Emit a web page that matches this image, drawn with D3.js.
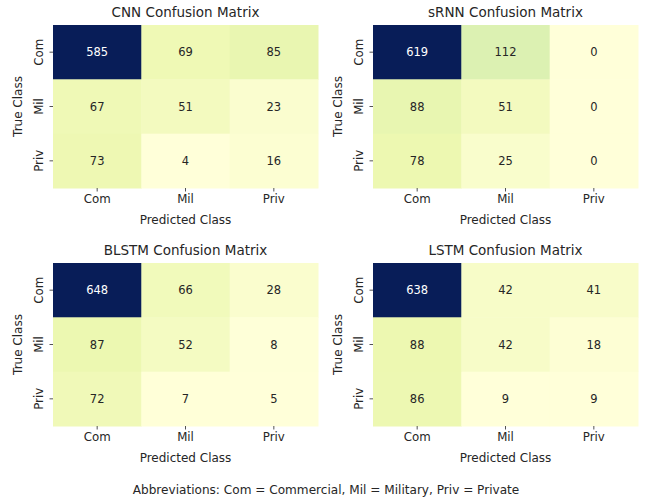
<!DOCTYPE html>
<html><head><meta charset="utf-8">
<script src="https://cdn.jsdelivr.net/npm/d3@7"></script>
<style>body{margin:0;background:#fff;} svg{display:block;font-family:"DejaVu Sans",sans-serif;}</style>
</head><body>
<svg id="c" width="648" height="499"></svg>
<script>
const classes = ["Com", "Mil", "Priv"];
const titles = ["CNN Confusion Matrix", "sRNN Confusion Matrix", "BLSTM Confusion Matrix", "LSTM Confusion Matrix"];
const cnn = [[585, 69, 85], [67, 51, 23], [73, 4, 16]];
const srnn = [[619, 112, 0], [88, 51, 0], [78, 25, 0]];
const blstm = [[648, 66, 28], [87, 52, 8], [72, 7, 5]];
const lstm = [[638, 42, 41], [88, 42, 18], [86, 9, 9]];
const matrices = [cnn, srnn, blstm, lstm];
const footnote = "Abbreviations: Com = Commercial, Mil = Military, Priv = Private";

const ylgnbu = ["#ffffd9","#edf8b1","#c7e9b4","#7fcdbb","#41b6c4","#1d91c0","#225ea8","#253494","#081d58"];
const svg = d3.select("#c");
const panels = [
  {x0: 53, y0: 25}, {x0: 373, y0: 25},
  {x0: 53, y0: 263}, {x0: 373, y0: 263}
];
const W = 265, H = 163;

matrices.forEach((m, i) => {
  const p = panels[i];
  const g = svg.append("g").attr("transform", `translate(${p.x0},${p.y0})`);
  const flat = m.flat();
  const mn = d3.min(flat), mx = d3.max(flat);
  const color = d3.scaleLinear()
    .domain(d3.range(9).map(k => mn + (mx - mn) * k / 8))
    .range(ylgnbu).interpolate(d3.interpolateRgb).clamp(true);
  const x = d3.scaleBand().domain(classes).range([0, W]);
  const y = d3.scaleBand().domain(classes).range([0, H]);
  const cells = [];
  m.forEach((row, r) => row.forEach((v, c) => cells.push({r: classes[r], c: classes[c], v})));
  g.selectAll("rect").data(cells).enter().append("rect")
    .attr("x", d => x(d.c)).attr("y", d => y(d.r))
    .attr("width", x.bandwidth() + 0.5).attr("height", y.bandwidth() + 0.5)
    .attr("fill", d => color(d.v));
  g.selectAll("text.ann").data(cells).enter().append("text").attr("class", "ann")
    .attr("x", d => x(d.c) + x.bandwidth() / 2).attr("y", d => y(d.r) + y.bandwidth() / 2)
    .attr("text-anchor", "middle").attr("dominant-baseline", "central")
    .attr("font-size", "11.5px")
    .attr("fill", d => { const c = d3.lab(color(d.v)); return c.l < 50 ? "#ffffff" : "#262626"; })
    .text(d => d.v);
  const xa = g.append("g").attr("transform", `translate(0,${H})`)
    .call(d3.axisBottom(x).tickSize(3.5).tickPadding(3.5));
  xa.select(".domain").remove();
  xa.selectAll("line").attr("stroke", "#262626").attr("stroke-width", 0.8);
  xa.selectAll("text").attr("font-size", "11.8px").attr("fill", "#262626").attr("font-family", "DejaVu Sans");
  const ya = g.append("g").call(d3.axisLeft(y).tickSize(3.5).tickPadding(3.5));
  ya.select(".domain").remove();
  ya.selectAll("line").attr("stroke", "#262626").attr("stroke-width", 0.8);
  ya.selectAll("text").attr("font-size", "11.8px").attr("fill", "#262626").attr("font-family", "DejaVu Sans")
    .attr("text-anchor", "middle").attr("dy", null)
    .attr("transform", "translate(-14.5,0) rotate(-90)").attr("x", 0).attr("y", 0)
    .attr("dominant-baseline", "central");
  g.append("text").attr("x", W / 2).attr("y", H + 36).attr("text-anchor", "middle")
    .attr("font-size", "12px").attr("fill", "#262626").text("Predicted Class");
  g.append("text").attr("transform", `translate(-31,${H / 2}) rotate(-90)`).attr("text-anchor", "middle")
    .attr("font-size", "12px").attr("fill", "#262626").text("True Class");
  g.append("text").attr("x", W / 2).attr("y", -8).attr("text-anchor", "middle")
    .attr("font-size", "13.5px").attr("fill", "#262626").text(titles[i]);
});
svg.append("text").attr("x", 326).attr("y", 494).attr("text-anchor", "middle")
  .attr("font-size", "12.1px").attr("fill", "#262626").text(footnote);
</script>
</body></html>
